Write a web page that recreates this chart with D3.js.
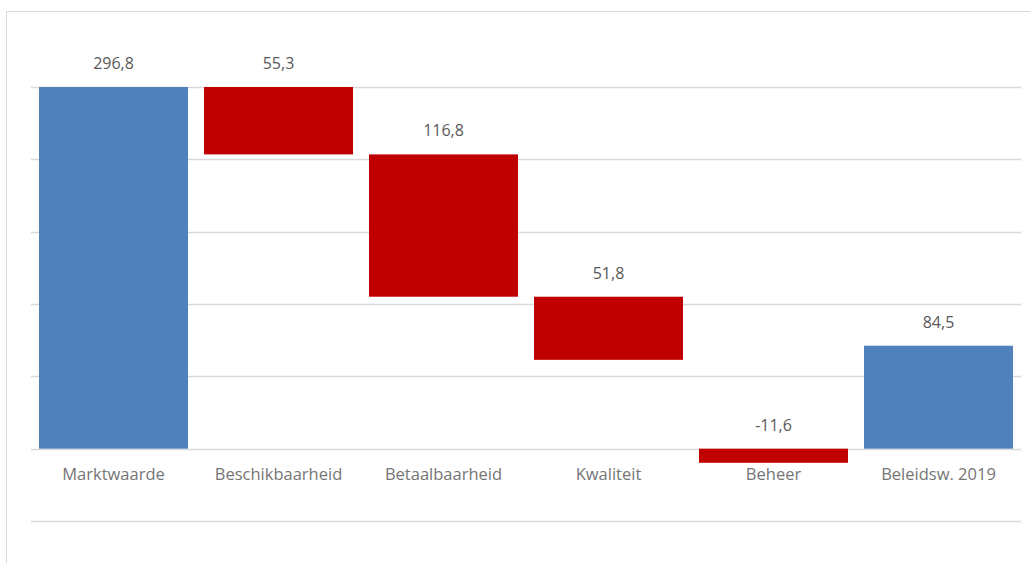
<!DOCTYPE html>
<html>
<head>
<meta charset="utf-8">
<script src="https://cdn.jsdelivr.net/npm/d3@7"></script>
<style>
  body { margin: 0; background: #fff; }
  svg { display: block; font-family: "Open Sans", sans-serif; }
</style>
</head>
<body>
<div id="chart"></div>
<script>
// data
const categories = ['Marktwaarde', 'Beschikbaarheid', 'Betaalbaarheid', 'Kwaliteit', 'Beheer', 'Beleidsw. 2019']
const values = [296.8, 55.3, 116.8, 51.8, -11.6, 84.5]
const barLow = [0, 241.5, 124.7, 72.9, -11.6, 0]
const barHigh = [296.8, 296.8, 241.5, 124.7, 0, 84.5]
const barKind = ['total', 'delta', 'delta', 'delta', 'delta', 'total']

const W = 1030, H = 563
const PLOT = { LEFT: 31, RIGHT: 1021, TOP: 87, BOTTOM: 521 }
const STEP = 296.8 / 5

const svg = d3.select('#chart').append('svg')
  .attr('width', W)
  .attr('height', H)

// chart area border
svg.append('rect')
  .attr('x', 6.5).attr('y', 11.5)
  .attr('width', W + 10).attr('height', H + 10)
  .attr('fill', 'none')
  .attr('stroke', '#d9d9d9')

const x = d3.scaleBand()
  .domain(categories)
  .range([PLOT.LEFT, PLOT.RIGHT])
  .paddingInner(0.097)
  .paddingOuter(0.0485)

const y = d3.scaleLinear()
  .domain([-STEP, 296.8])
  .range([PLOT.BOTTOM, PLOT.TOP])

// gridlines
const ticks = d3.range(-1, 6).map(i => i * STEP)
svg.append('g')
  .selectAll('line')
  .data(ticks)
  .join('line')
  .attr('x1', PLOT.LEFT).attr('x2', PLOT.RIGHT)
  .attr('y1', d => Math.round(y(d)) + 0.5)
  .attr('y2', d => Math.round(y(d)) + 0.5)
  .attr('stroke', '#d9d9d9')
  .attr('stroke-width', 1.3)

const data = categories.map((c, i) => ({
  cat: c, value: values[i], low: barLow[i], high: barHigh[i], kind: barKind[i]
}))

// bars
svg.append('g')
  .selectAll('rect')
  .data(data)
  .join('rect')
  .attr('x', d => x(d.cat))
  .attr('width', x.bandwidth())
  .attr('y', d => y(d.high))
  .attr('height', d => y(d.low) - y(d.high))
  .attr('fill', d => d.kind === 'total' ? '#4f81bd' : '#c00000')

// value labels
svg.append('g')
  .selectAll('text')
  .data(data)
  .join('text')
  .attr('x', d => x(d.cat) + x.bandwidth() / 2)
  .attr('y', d => y(d.high) - 18)
  .attr('text-anchor', 'middle')
  .attr('font-size', 16)
  .attr('fill', '#595959')
  .text(d => d.value.toFixed(1).replace('.', ','))

// category axis
const xAxis = svg.append('g')
  .attr('transform', `translate(0, ${y(0)})`)
  .call(d3.axisBottom(x).tickSize(0).tickPadding(20))
xAxis.select('.domain').remove()
xAxis.selectAll('text')
  .attr('font-family', '"Open Sans", sans-serif')
  .attr('font-size', 16.5)
  .attr('fill', '#757575')
</script>
</body>
</html>
